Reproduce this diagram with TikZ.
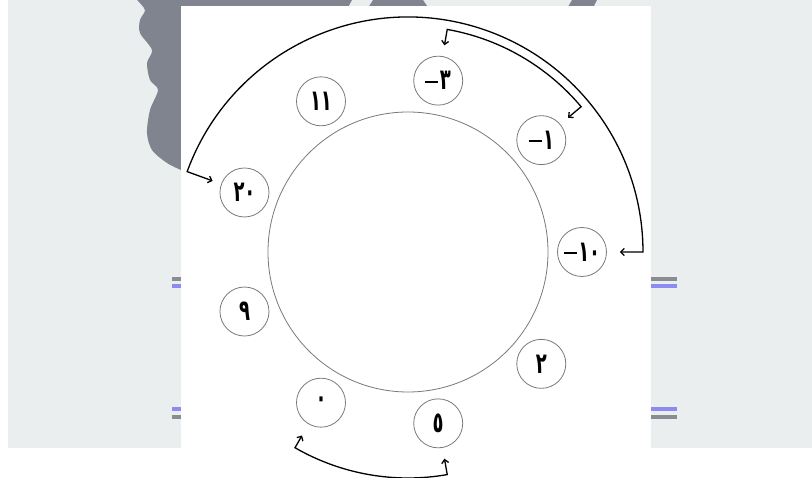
\documentclass[tikz,border=0pt]{standalone}
\usepackage{fontspec}
\usepackage{graphicx}
\newfontfamily\arabicfont{DejaVu Sans}
\usetikzlibrary{arrows.meta,calc}
\definecolor{bggray}{HTML}{EBEEEE}
\definecolor{blobgray}{HTML}{80848F}
\definecolor{bargray}{HTML}{8A8C94}
\definecolor{barblue}{HTML}{8C8CF0}
\definecolor{ringgray}{HTML}{7A7A7A}
\newcommand{\numtxt}[1]{\scalebox{0.62}[1]{#1}}
\newcommand{\negdash}{\rule[7pt]{13pt}{2pt}\hspace{1.5pt}}
\begin{document}
\begin{tikzpicture}[x=1pt,y=1pt,
  num/.style={circle,draw=ringgray,line width=0.8pt,minimum size=49pt,inner sep=0pt,
    font=\arabicfont\bfseries\fontsize{29}{29}\selectfont},
  ringstyle/.style={circle,draw=ringgray,line width=0.8pt,minimum size=280pt,inner sep=0pt},
  link/.style={line width=1.3pt,
    {Straight Barb[length=3.5pt,width=7pt]}-{Straight Barb[length=3.5pt,width=7pt]}}]
\useasboundingbox (-408,-226) rectangle (404,252);
\fill[white] (-408,-226) rectangle (404,252);
\fill[bggray] (-400,-196) rectangle (404,252);
% background decoration
\fill[blobgray] plot[smooth] coordinates {(-271,252) (-263,242) (-268,232) (-268,219)
  (-256,202) (-261,189) (-258,172) (-250,162) (-258,142) (-261,119) (-256,102)
  (-241,89) (-227,82)} -- (-150,82) -- (-56,252) -- cycle;
\fill[blobgray] (-35,252) -- (15,252) -- (26,236) -- (-45,236) -- cycle;
\fill[blobgray] (164,252) -- (189,252) -- (182,238) -- (156,238) -- cycle;
\fill[bargray] (-236,-29) rectangle (-227,-25);
\fill[barblue] (-236,-36) rectangle (-227,-32);
\fill[barblue] (-236,-159) rectangle (-227,-155);
\fill[bargray] (-236,-167) rectangle (-227,-163);
\fill[bargray] (243,-29) rectangle (269,-25);
\fill[barblue] (243,-36) rectangle (269,-32);
\fill[barblue] (243,-159) rectangle (269,-155);
\fill[bargray] (243,-167) rectangle (269,-163);
% white sheet
\fill[white] (-227,-226) rectangle (243,246);
% ring and numbers
\node[ringstyle] (ring) at (0,0) {};
\node[num] (m10) at (0:174) {\negdash\numtxt{١٠}};
\node[num] (m1) at (40:174) {\negdash\numtxt{١}};
\node[num] (m3) at (80:174) {\negdash\numtxt{٣}};
\node[num] (n11) at (120:174) {\numtxt{١١}};
\node[num] (n20) at (160:174) {\numtxt{٢٠}};
\node[num] (n9) at (200:174) {\numtxt{٩}};
\node[num] (n0) at (240:174) {\numtxt{٠}};
\node[num] (n5) at (280:174) {\numtxt{٥}};
\node[num] (n2) at (320:174) {\numtxt{٢}};
% connectors
\draw[link] ($(n20.160)+(160:9)$) -- (160:235) arc[start angle=160,end angle=0,radius=235] -- ($(m10.0)+(0:13)$);
\draw[link] ($(m3.80)+(80:11)$) -- (80:226) arc[start angle=80,end angle=40,radius=226] -- ($(m1.40)+(40:10)$);
\draw[link] ($(n0.240)+(240:13)$) -- (240:226) arc[start angle=240,end angle=280,radius=226] -- ($(n5.280)+(280:11)$);
\end{tikzpicture}
\end{document}
